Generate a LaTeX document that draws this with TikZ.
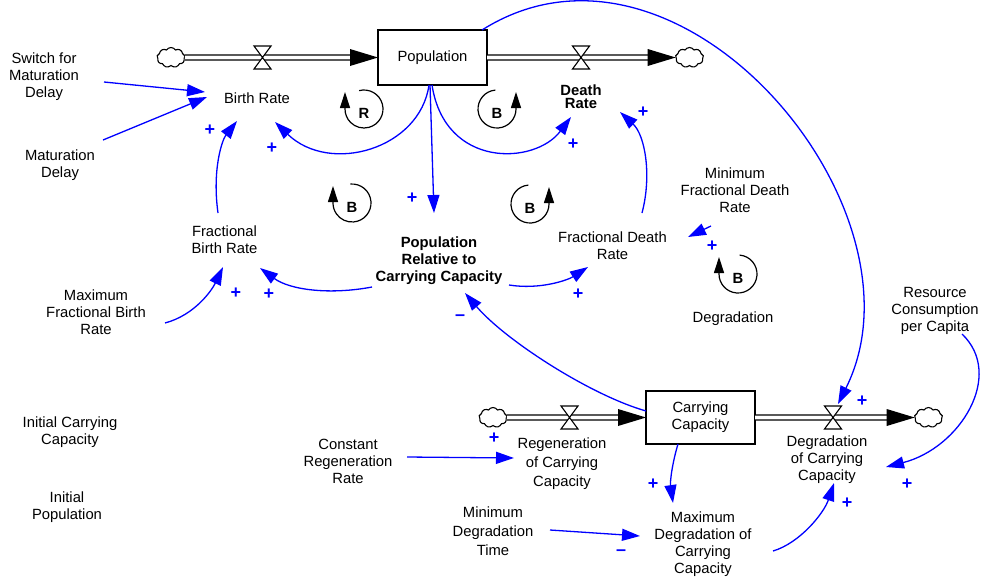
\documentclass[tikz,border=0pt]{standalone}
\usepackage{fontspec}
\setmainfont{Liberation Sans}
\usetikzlibrary{arrows.meta,calc,shapes.symbols}

% loop marker, arrow on the left side pointing up
\newcommand{\loopmarkL}[4]{%
  \node[looplbl] (#1) at (#2) {#3};
  \draw[loopline] ($(#1)+(0,4)+(#4:19pt)$) arc[start angle=#4, end angle=-180, radius=19pt] -- ++(0,17);}
% loop marker, arrow on the right side pointing up
\newcommand{\loopmarkR}[4]{%
  \node[looplbl] (#1) at (#2) {#3};
  \draw[loopline] ($(#1)+(0,4)+(#4:19pt)$) arc[start angle=#4, end angle=360, radius=19pt] -- ++(0,17);}

\begin{document}
\begin{tikzpicture}[x=1pt,y=1pt,
  every node/.style={inner sep=0pt, outer sep=0pt},
  var/.style={align=center, font=\fontsize{14.8}{17}\selectfont},
  varb/.style={align=center, font=\fontsize{14.8}{17}\selectfont\bfseries},
  stock/.style={draw, line width=1.3pt, minimum width=109pt, align=center, font=\fontsize{14.8}{17}\selectfont},
  sink/.style={cloud, cloud puffs=9, cloud puff arc=115, aspect=1.4, draw, line width=1.1pt, minimum width=28pt, minimum height=20pt, fill=white},
  pipe/.style={line width=1.2pt, double=white, double distance=3.8pt},
  link/.style={blue, line width=1.3pt, -{Triangle[length=18pt,width=12pt]}},
  pol/.style={blue, font=\fontsize{18}{20}\selectfont\bfseries},
  loopline/.style={line width=1.2pt, -{Triangle[length=16pt,width=10pt]}},
  looplbl/.style={font=\fontsize{14.8}{17}\selectfont\bfseries},
  valve/.style={draw, fill=white, line width=1.1pt},
]
\useasboundingbox (0,0) rectangle (982,-576);

% stocks
\node[stock, minimum height=55pt] (pop) at (432.5,-57.5) {Population};
\node[stock, minimum height=53pt] (cc) at (700.5,-417.5) {Carrying\\Capacity};

% sources and sinks
\node[sink] (cl1) at (171,-57.5) {};
\node[sink] (cl2) at (689.5,-57.5) {};
\node[sink] (cl3) at (493,-417.5) {};
\node[sink] (cl4) at (928.5,-417.5) {};

% flow pipes
\draw[pipe] (cl1.east) -- ($(pop.west)+(-27,0)$);
\fill (pop.west) -- ++(-28,8.5) -- ++(0,-17) -- cycle;
\draw[pipe] (pop.east) -- ($(cl2.west)+(-27,0)$);
\fill (cl2.west) -- ++(-28,8.5) -- ++(0,-17) -- cycle;
\draw[pipe] (cl3.east) -- ($(cc.west)+(-27,0)$);
\fill (cc.west) -- ++(-28,8.5) -- ++(0,-17) -- cycle;
\draw[pipe] (cc.east) -- ($(cl4.west)+(-27,0)$);
\fill (cl4.west) -- ++(-28,8.5) -- ++(0,-17) -- cycle;

% valves
\coordinate (vb) at (262.5,-57.5);
\coordinate (vd) at (581,-57.5);
\coordinate (vr) at (569.5,-417.5);
\coordinate (vg) at (833,-417.5);
\foreach \v in {vb,vd,vr,vg}
  \draw[valve] ($(\v)+(-8.5,11.5)$) -- ($(\v)+(8.5,11.5)$) -- ($(\v)+(-8.5,-11.5)$) -- ($(\v)+(8.5,-11.5)$) -- cycle;

% variables
\node[var] (switch) at (44,-76.5) {Switch for\\Maturation\\Delay};
\node[var] (matd) at (60,-165.5) {Maturation\\Delay};
\node[var] (birth) at (257,-98) {Birth Rate};
\node[varb, font=\fontsize{14.8}{13}\selectfont\bfseries] (death) at (581,-96.5) {Death\\Rate};
\node[var] (fbr) at (224.5,-240) {Fractional\\Birth Rate};
\node[varb] (prc) at (439,-260.5) {Population\\Relative to\\Carrying Capacity};
\node[var] (fdr) at (612.5,-245.5) {Fractional Death\\Rate};
\node[var] (minfdr) at (735,-190) {Minimum\\Fractional Death\\Rate};
\node[var] (maxfbr) at (96,-312) {Maximum\\Fractional Birth\\Rate};
\node[var] (rcpc) at (935,-311) {Resource\\Consumption\\per Capita};
\node[var] (icc) at (70,-432.5) {Initial Carrying\\Capacity};
\node[var] (ipop) at (67,-507) {Initial\\Population};
\node[var] (crr) at (348,-461.5) {Constant\\Regeneration\\Rate};
\node[var, font=\fontsize{14.8}{19}\selectfont] (regen) at (562,-463.5) {Regeneration\\of Carrying\\Capacity};
\node[var] (degcc) at (827,-459.5) {Degradation\\of Carrying\\Capacity};
\node[var, font=\fontsize{14.8}{19}\selectfont] (mdt) at (493,-531) {Minimum\\Degradation\\Time};
\node[var] (maxdeg) at (703,-544.5) {Maximum\\Degradation of\\Carrying\\Capacity};
\node[var] (degl) at (733,-318.5) {Degradation};

% loop markers
\loopmarkL{lr}{364,-113}{R}{105}
\loopmarkR{lb1}{497,-113}{B}{95}
\loopmarkL{lb2}{352,-207}{B}{95}
\loopmarkR{lb3}{530,-208}{B}{95}
\loopmarkL{lb4}{738,-278}{B}{85}

% causal links
\draw[link] ($(switch)+(60,-5.5)$) -- ($(birth)+(-52,6)$);
\draw[link] ($(matd)+(43,25.5)$) -- ($(birth)+(-50,1)$);
\draw[link] ($(fbr)+(-6.5,27)$) .. controls +(-6,43) and +(-15,-19) .. ($(birth)+(-20,-23)$);
\draw[link] ($(pop.south)+(-3.5,0)$) .. controls +(-9,-64) and +(55,-53) .. ($(birth)+(18,-24)$);
\draw[link] ($(pop.south)+(-2.5,0)$) -- ($(prc)+(-5,47.5)$);
\draw[link] ($(pop.south)+(-0.5,0)$) .. controls +(13,-84) and +(-36,-48) .. ($(death)+(-10,-20.5)$);
\draw[link] ($(fdr)+(29.5,32.5)$) .. controls +(10,38) and +(25,-23) .. ($(death)+(39,-15.5)$);
\draw[link] ($(minfdr)+(-24,-36)$) -- ($(fdr)+(75.5,8.5)$);
\draw[link] ($(prc)+(-67,-26.5)$) .. controls +(-42,-8) and +(30,-22) .. ($(fbr)+(35.5,-28)$);
\draw[link] ($(maxfbr)+(69,-11)$) .. controls +(30,8) and +(-11,-23) .. ($(fbr)+(-1.5,-27)$);
\draw[link] ($(prc)+(70,-24.5)$) .. controls +(31,-5) and +(-20,-13) .. ($(fdr)+(-24.5,-21.5)$);
\draw[link] ($(cc.west)+(0,6.5)$) .. controls +(-56,16) and +(40,-47) .. ($(prc)+(26,-32.5)$);
\draw[link] ($(pop.north east)+(-5,0)$) .. controls +(198,125) and +(97,194) .. ($(vg)+(5,13.5)$);
\draw[link] ($(crr)+(59,4.5)$) -- ($(regen)+(-48,5.5)$);
\draw[link] ($(cc.south)+(-22.5,0)$) .. controls +(-6,-20) and +(-3,21) .. ($(maxdeg)+(-30,41.5)$);
\draw[link] ($(mdt)+(57,1)$) -- ($(maxdeg)+(-63,8.5)$);
\draw[link] ($(maxdeg)+(70,-6.5)$) .. controls +(27,8) and +(-10,-30) .. ($(degcc)+(7,-23.5)$);
\draw[link] ($(rcpc)+(27,-23)$) .. controls +(43,-41) and +(74,19) .. ($(degcc)+(59,-7.5)$);

% link polarities
\node[pol] (s1) at (210,-130) {+};
\node[pol] (s2) at (272,-148) {+};
\node[pol] (s3) at (573,-144) {+};
\node[pol] (s4) at (643,-112) {+};
\node[pol] (s5) at (412,-198) {+};
\node[pol] (s6) at (712,-246) {+};
\node[pol] (s7) at (269,-294) {+};
\node[pol] (s8) at (236,-293) {+};
\node[pol] (s9) at (578,-294) {+};
\node[pol] (s10) at (460,-318) {–};
\node[pol] (s11) at (862,-401) {+};
\node[pol] (s12) at (494,-438) {+};
\node[pol] (s13) at (653,-484) {+};
\node[pol] (s14) at (621,-553) {–};
\node[pol] (s15) at (847,-503) {+};
\node[pol] (s16) at (907,-484) {+};
\end{tikzpicture}
\end{document}
